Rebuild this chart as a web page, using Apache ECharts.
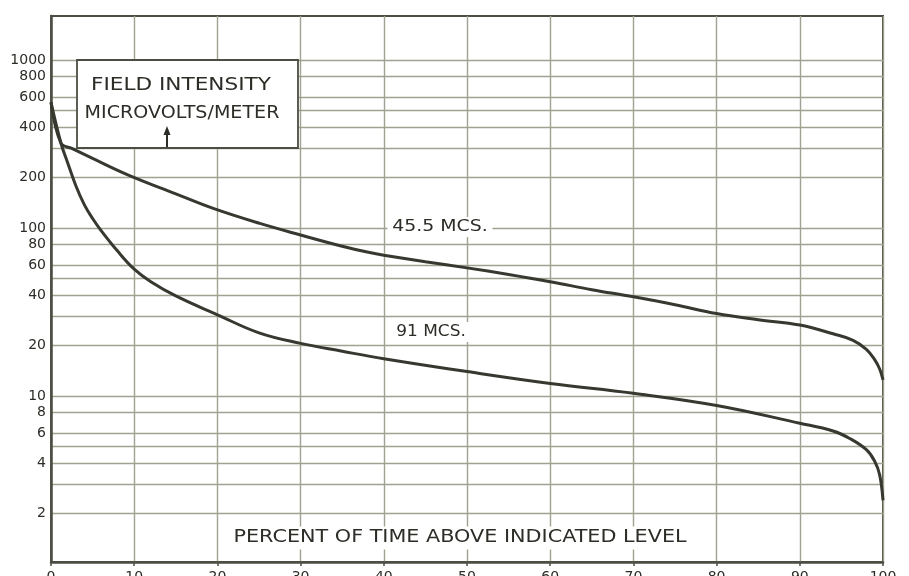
<!DOCTYPE html>
<html>
<head>
<meta charset="utf-8">
<script src="https://cdn.jsdelivr.net/npm/echarts@6/dist/echarts.min.js"></script>
<style>
html,body{margin:0;padding:0;background:#ffffff;}
#chart{width:909px;height:576px;}
</style>
</head>
<body>
<div id="chart"></div>
<script>
// ---- data ----
const pct45 = [0, 1.2, 2.5, 5, 9.3, 15, 19.5, 25, 30, 35, 38, 40, 45, 50, 55, 60, 65, 70, 75, 80, 85, 90, 94, 96.4, 98, 99, 99.6, 100];
const val45 = [560, 320, 298, 260, 207, 160, 131, 107, 91, 78, 72, 69, 63, 58, 53, 48, 43, 39, 35, 31, 28.5, 26.5, 23.5, 21.5, 19, 16.5, 14.5, 12.5];
const pct91 = [0, 1.2, 2, 3, 4, 5, 6, 8, 10, 12, 15, 20, 25, 30, 35, 40, 50, 60, 70, 80, 90, 94, 96, 98, 99, 99.6, 100];
const val91 = [560, 320, 245, 178, 138, 114, 97, 73, 57, 48, 39.5, 30.5, 23.8, 20.6, 18.5, 16.7, 14, 11.9, 10.4, 8.8, 6.9, 6.2, 5.6, 4.8, 4.1, 3.4, 2.4];
const xTicks = [0, 10, 20, 30, 40, 50, 60, 70, 80, 90, 100];
const yLabelValues = [2, 4, 6, 8, 10, 20, 40, 60, 80, 100, 200, 400, 600, 800, 1000];
const yGridValues = [2, 3, 4, 5, 6, 8, 10, 20, 30, 40, 50, 60, 80, 100, 200, 300, 400, 500, 600, 800, 1000];
const seriesNames = ['45.5 MCS.', '91 MCS.'];

const zip = (xs, ys) => xs.map((x, i) => [x, ys[i]]);

const ink = '#2b2d26';
const gridCol = '#9ea28f';
const frameCol = '#4b4e42';
const font = '"DejaVu Sans", sans-serif';

const chart = echarts.init(document.getElementById('chart'), null, {renderer: 'canvas'});
chart.setOption({
  animation: false,
  backgroundColor: '#ffffff',
  grid: {left: 51, right: 26, top: 16, bottom: 14, containLabel: false, outerBoundsMode: 'none',
    show: true, borderColor: frameCol, borderWidth: 2, backgroundColor: 'transparent'},
  xAxis: {
    type: 'value', min: 0, max: 100, interval: 10,
    axisLine: {show: true, onZero: false, lineStyle: {color: frameCol, width: 2.5}},
    axisTick: {show: true, inside: false, length: 4, lineStyle: {color: frameCol, width: 1.5}},
    axisLabel: {show: true, margin: 8, color: ink, fontFamily: font, fontSize: 14,
      customValues: xTicks, formatter: v => String(v)},
    splitLine: {show: true, lineStyle: {color: gridCol, width: 1.4}}
  },
  yAxis: {
    type: 'log', logBase: 10, min: 1.03, max: 1830,
    axisLine: {show: true, lineStyle: {color: frameCol, width: 2.5}},
    axisTick: {show: false, customValues: yGridValues},
    axisLabel: {show: true, margin: 5, color: ink, fontFamily: font, fontSize: 14,
      customValues: yLabelValues, formatter: v => String(Math.round(v))},
    splitLine: {show: true, lineStyle: {color: gridCol, width: 1.4}}
  },
  series: [
    {name: seriesNames[0], type: 'line', data: zip(pct45, val45), showSymbol: false, smooth: 0.4,
      lineStyle: {color: '#363930', width: 3}, z: 5},
    {name: seriesNames[1], type: 'line', data: zip(pct91, val91), showSymbol: false, smooth: 0.4,
      lineStyle: {color: '#363930', width: 3}, z: 5}
  ],
  graphic: [
    {type: 'rect', shape: {x: 77, y: 60, width: 221, height: 88}, style: {fill: '#ffffff', stroke: frameCol, lineWidth: 1.8}, z: 50},
    {type: 'text', x: 181, y: 85, scaleX: 1.2, z: 51, style: {text: 'FIELD INTENSITY', fill: ink, font: '18px "DejaVu Sans", sans-serif', textAlign: 'center', textVerticalAlign: 'middle'}},
    {type: 'text', x: 182, y: 113, scaleX: 1.06, z: 51, style: {text: 'MICROVOLTS/METER', fill: ink, font: '18px "DejaVu Sans", sans-serif', textAlign: 'center', textVerticalAlign: 'middle'}},
    {type: 'line', shape: {x1: 167, y1: 147, x2: 167, y2: 133}, style: {stroke: ink, lineWidth: 2}, z: 51},
    {type: 'polygon', shape: {points: [[167, 126], [163.5, 135], [170.5, 135]]}, style: {fill: ink}, z: 51},
    {type: 'text', x: 440, y: 227, scaleX: 1.18, z: 40, style: {text: seriesNames[0], fill: ink, font: '16px "DejaVu Sans", sans-serif', textAlign: 'center', textVerticalAlign: 'middle', backgroundColor: '#ffffff', padding: [2, 4]}},
    {type: 'text', x: 431, y: 332, scaleX: 1.06, z: 40, style: {text: seriesNames[1], fill: ink, font: '16px "DejaVu Sans", sans-serif', textAlign: 'center', textVerticalAlign: 'middle', backgroundColor: '#ffffff', padding: [2, 4]}},
    {type: 'text', x: 460, y: 538, scaleX: 1.22, z: 40, style: {text: 'PERCENT OF TIME ABOVE INDICATED LEVEL', fill: ink, font: '17px "DejaVu Sans", sans-serif', textAlign: 'center', textVerticalAlign: 'middle', backgroundColor: '#ffffff', padding: [3, 4]}}
  ]
});
</script>
</body>
</html>
